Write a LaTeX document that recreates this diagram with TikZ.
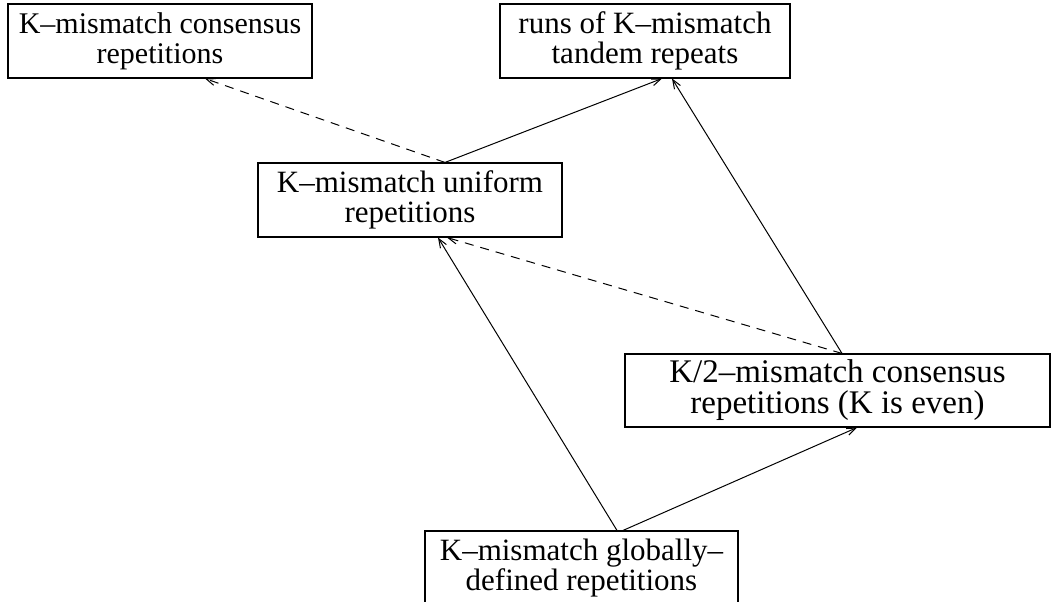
\documentclass[tikz,border=0pt]{standalone}
\usepackage{fontspec}
\setmainfont{Liberation Serif}
\usetikzlibrary{arrows.meta}
\begin{document}
\begin{tikzpicture}[x=1pt,y=1pt,
  box/.style={draw,line width=1.1pt,align=center,inner sep=0pt,
    font=\fontsize{31}{30}\selectfont},
  conn/.style={line width=1pt,-{Straight Barb[length=9pt,width=7pt,line width=1pt]}},
  dconn/.style={conn,dash pattern=on 9pt off 7pt}]
\useasboundingbox (0,0) rectangle (1055,602);
\fill[white] (0,0) rectangle (1055,602);
\node[box,minimum width=304pt,minimum height=74pt,font=\fontsize{30}{30}\selectfont] (b1) at (160,561) {K–mismatch consensus\\repetitions};
\node[box,minimum width=290pt,minimum height=74pt] (b2) at (645,561) {runs of K–mismatch\\tandem repeats};
\node[box,minimum width=304pt,minimum height=74pt] (b3) at (410,402) {K–mismatch uniform\\repetitions};
\node[box,minimum width=425pt,minimum height=73pt,font=\fontsize{33}{31}\selectfont] (b4) at (837.5,211.5) {K/2–mismatch consensus\\repetitions (K is even)};
\node[box,minimum width=313pt,minimum height=74pt] (b5) at (581.5,34) {K–mismatch globally–\\defined repetitions};
\draw[dconn] ([xshift=35pt]b3.north) -- ([xshift=45pt]b1.south);
\draw[conn] ([xshift=35pt]b3.north) -- ([xshift=17pt]b2.south);
\draw[conn] ([xshift=4.5pt]b4.north) -- ([xshift=27pt]b2.south);
\draw[dconn] ([xshift=4.5pt]b4.north) -- ([xshift=37pt]b3.south);
\draw[conn] ([xshift=35.5pt]b5.north) -- ([xshift=28pt]b3.south);
\draw[conn] ([xshift=41.5pt]b5.north) -- ([xshift=19.5pt]b4.south);
\end{tikzpicture}
\end{document}
